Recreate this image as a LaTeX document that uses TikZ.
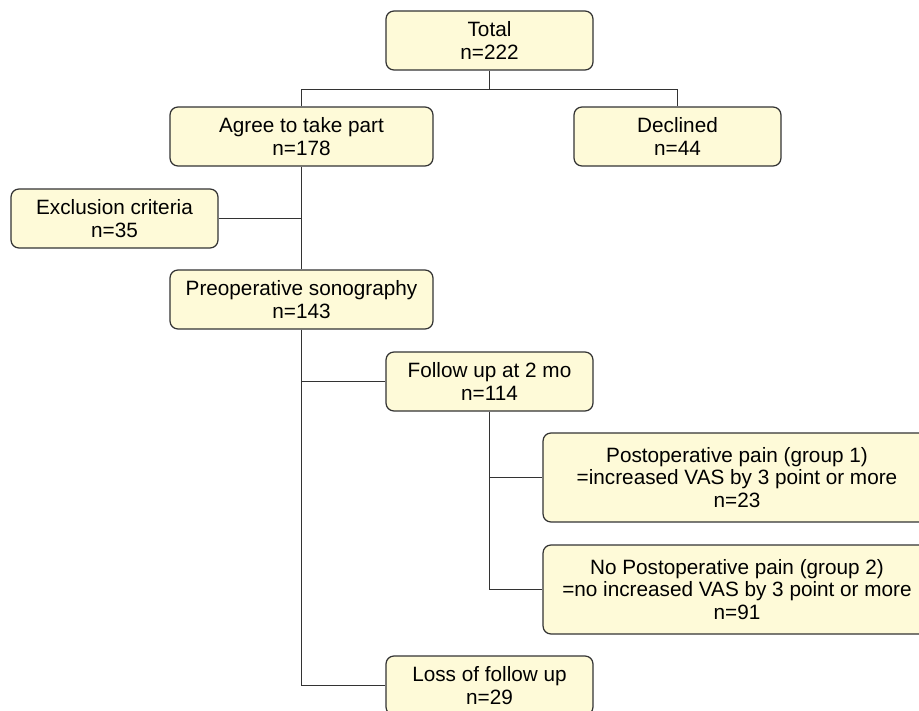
\documentclass[tikz,border=0pt]{standalone}
\usepackage{fontspec}
\setmainfont{Liberation Sans}
\usepackage{xcolor}
\definecolor{boxfill}{HTML}{FEFAD8}
\definecolor{boxline}{HTML}{333333}

\tikzset{
  flowbox/.style={draw=boxline, fill=boxfill, line width=0.7pt, rounded corners=4.5pt,
    align=center, inner sep=2pt, minimum width=4.14cm, minimum height=1.18cm,
    font=\fontsize{11.8pt}{13pt}\selectfont},
  widebox/.style={flowbox, minimum width=5.26cm},
  groupbox/.style={flowbox, minimum width=7.76cm, minimum height=1.78cm},
  link/.style={draw=boxline, line width=0.7pt}
}

\begin{document}
\begin{tikzpicture}[x=0.02cm, y=-0.02cm]
    \useasboundingbox (0,0) rectangle (919,710);
    \clip (0,0) rectangle (919,710);

    \node[flowbox] (total) at (489.5,40.5) {Total\\n=222};
    \node[widebox] (agree) at (301.5,136.5) {Agree to take part\\n=178};
    \node[flowbox] (declined) at (677.5,136.5) {Declined\\n=44};
    \node[flowbox] (excl) at (114.5,218.5) {Exclusion criteria\\n=35};
    \node[widebox] (preop) at (301.5,299.5) {Preoperative sonography\\n=143};
    \node[flowbox] (follow) at (489.5,381.5) {Follow up at 2 mo\\n=114};
    \node[groupbox] (grp1) at (737,477.5) {Postoperative pain (group 1)\\=increased VAS by 3 point or more\\n=23};
    \node[groupbox] (grp2) at (737,589.5) {No Postoperative pain (group 2)\\=no increased VAS by 3 point or more\\n=91};
    \node[flowbox] (loss) at (489.5,685.5) {Loss of follow up\\n=29};

    \coordinate (split) at (489.5,89.5);

    \draw[link] (total) -- (split);
    \draw[link] (agree.north) |- (split) -| (declined.north);
    \draw[link] (agree) -- (preop);
    \draw[link] (excl.east) -- (excl.east -| agree.south);
    \draw[link] (preop.south) |- (follow.west);
    \draw[link] (preop.south) |- (loss.west);
    \draw[link] (follow.south) |- (grp1.west);
    \draw[link] (follow.south) |- (grp2.west);
  \end{tikzpicture}
\end{document}
